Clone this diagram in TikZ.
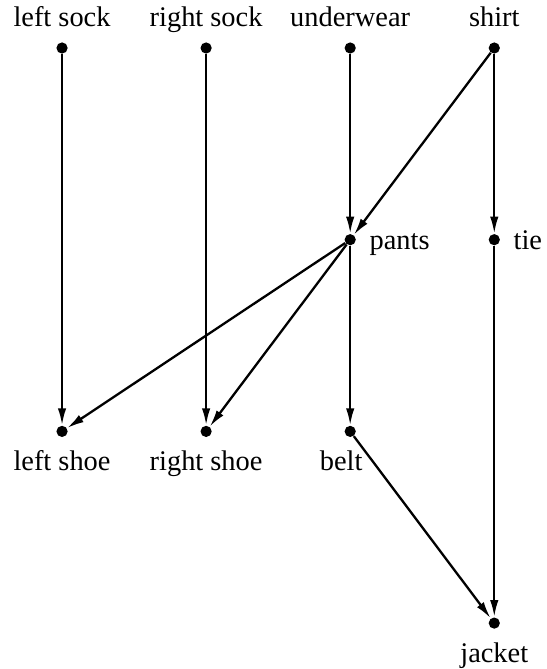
\documentclass[tikz,border=0pt]{standalone}
\usepackage{fontspec}
\setmainfont{Liberation Serif}
\usetikzlibrary{arrows.meta}

\begin{document}
\begin{tikzpicture}[
    x=72pt, y=-95.8pt,
    >={Latex[length=8.5pt,width=4.2pt]},
    dot/.style={circle, fill, inner sep=0pt, minimum size=5.6pt},
    lbl/.style={font=\fontsize{14.2}{17}\selectfont, inner sep=0pt, text height=10pt, text depth=0pt},
    every label/.style={lbl, label distance=6.5pt},
    edge/.style={->, line width=1.15pt}
  ]
  \useasboundingbox (-0.4306,-0.2504) rectangle (3.361,3.2394);

  % top row
  \node[dot, label={[label distance=7.5pt]above:left sock}] (lsock) at (0,0) {};
  \node[dot, label={[label distance=7.5pt]above:right sock}] (rsock) at (1,0) {};
  \node[dot, label={[label distance=7.5pt]above:underwear}] (under) at (2,0) {};
  \node[dot, label={[label distance=7.5pt]above:shirt}] (shirt) at (3,0) {};
  % middle row
  \node[dot, label={right:pants}] (pants) at (2,1) {};
  \node[dot, label={right:tie}] (tie) at (3,1) {};
  % bottom rows
  \node[dot, label={below:left shoe}] (lshoe) at (0,2) {};
  \node[dot, label={below:right shoe}] (rshoe) at (1,2) {};
  \node[dot, label={[xshift=-4.5pt]below:belt}] (belt) at (2,2) {};
  \node[dot, label={below:jacket}] (jacket) at (3,3) {};

  \draw[edge] (lsock) -- (lshoe);
  \draw[edge] (rsock) -- (rshoe);
  \draw[edge] (under) -- (pants);
  \draw[edge] (shirt) -- (pants);
  \draw[edge] (shirt) -- (tie);
  \draw[edge] (pants) -- (lshoe);
  \draw[edge] (pants) -- (rshoe);
  \draw[edge] (pants) -- (belt);
  \draw[edge] (tie) -- (jacket);
  \draw[edge] (belt) -- (jacket);
\end{tikzpicture}
\end{document}
